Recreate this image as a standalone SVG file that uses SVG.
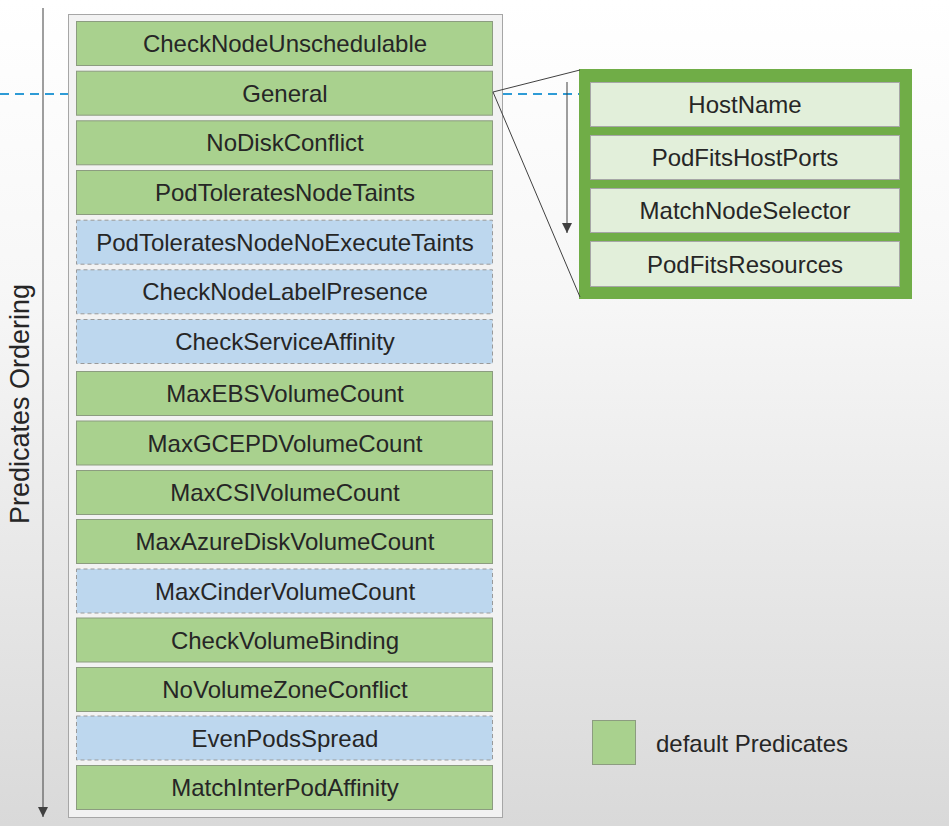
<svg xmlns="http://www.w3.org/2000/svg" width="949" height="826" viewBox="0 0 949 826">
<defs>
<linearGradient id="bg" x1="0" y1="0" x2="0" y2="1">
<stop offset="0" stop-color="#ffffff"/>
<stop offset="0.35" stop-color="#f7f7f7"/>
<stop offset="1" stop-color="#d9d9d9"/>
</linearGradient>
<marker id="ah" viewBox="0 0 10 10" refX="10" refY="5" markerWidth="10" markerHeight="10" markerUnits="userSpaceOnUse" orient="auto">
<path d="M0,0 L10,5 L0,10 z" fill="#404040"/>
</marker>
</defs>
<style>
.g{fill:#a9d18e;stroke:#8c9c80;stroke-width:1}
.b{fill:#bdd7ee;stroke:#9a9a9a;stroke-width:1;stroke-dasharray:4 3}
.lg{fill:#e2efda;stroke:#a6a6a6;stroke-width:1}
.t{font-family:"Liberation Sans","Noto Sans",sans-serif;font-size:24px;fill:#262626;text-anchor:middle;dominant-baseline:central}
.dash{stroke:#2e9bd6;stroke-width:2;stroke-dasharray:9 6;fill:none}
.ln{stroke:#404040;stroke-width:1;fill:none}
</style>
<rect width="949" height="826" fill="url(#bg)"/>
<text class="t" transform="translate(20,404) rotate(-90)" style="font-size:27px">Predicates Ordering</text>
<g id="container">
<rect x="68.5" y="14.5" width="434" height="803" fill="#f2f2f2" stroke="#a6a6a6" stroke-width="1"/>
</g>
<g id="n1"><rect class="g" x="76.5" y="21.5" width="416" height="44"/><text class="t" x="285" y="43.5">CheckNodeUnschedulable</text></g>
<g id="n2"><rect class="g" x="76.5" y="71.2" width="416" height="44"/><text class="t" x="285" y="93.2">General</text></g>
<g id="n3"><rect class="g" x="76.5" y="120.8" width="416" height="44"/><text class="t" x="285" y="142.8">NoDiskConflict</text></g>
<g id="n4"><rect class="g" x="76.5" y="170.5" width="416" height="44"/><text class="t" x="285" y="192.5">PodToleratesNodeTaints</text></g>
<g id="n5"><rect class="b" x="76.5" y="220.2" width="416" height="44"/><text class="t" x="285" y="242.2">PodToleratesNodeNoExecuteTaints</text></g>
<g id="n6"><rect class="b" x="76.5" y="269.8" width="416" height="44"/><text class="t" x="285" y="291.8">CheckNodeLabelPresence</text></g>
<g id="n7"><rect class="b" x="76.5" y="319.5" width="416" height="44"/><text class="t" x="285" y="341.5">CheckServiceAffinity</text></g>
<g id="n8"><rect class="g" x="76.5" y="371.5" width="416" height="44"/><text class="t" x="285" y="393.5">MaxEBSVolumeCount</text></g>
<g id="n9"><rect class="g" x="76.5" y="421" width="416" height="44"/><text class="t" x="285" y="443">MaxGCEPDVolumeCount</text></g>
<g id="n10"><rect class="g" x="76.5" y="470.5" width="416" height="44"/><text class="t" x="285" y="492.5">MaxCSIVolumeCount</text></g>
<g id="n11"><rect class="g" x="76.5" y="519.5" width="416" height="44"/><text class="t" x="285" y="541.5">MaxAzureDiskVolumeCount</text></g>
<g id="n12"><rect class="b" x="76.5" y="569" width="416" height="44"/><text class="t" x="285" y="591">MaxCinderVolumeCount</text></g>
<g id="n13"><rect class="g" x="76.5" y="618" width="416" height="44"/><text class="t" x="285" y="640">CheckVolumeBinding</text></g>
<g id="n14"><rect class="g" x="76.5" y="667.5" width="416" height="44"/><text class="t" x="285" y="689.5">NoVolumeZoneConflict</text></g>
<g id="n15"><rect class="b" x="76.5" y="716" width="416" height="44"/><text class="t" x="285" y="738">EvenPodsSpread</text></g>
<g id="n16"><rect class="g" x="76.5" y="765.5" width="416" height="44"/><text class="t" x="285" y="787.5">MatchInterPodAffinity</text></g>
<g id="general-detail">
<rect x="579" y="69" width="333" height="230" fill="#70ad47"/>
<g id="d1"><rect class="lg" x="590.5" y="82.5" width="309" height="44"/><text class="t" x="745" y="104.5">HostName</text></g>
<g id="d2"><rect class="lg" x="590.5" y="135.5" width="309" height="44"/><text class="t" x="745" y="157.5">PodFitsHostPorts</text></g>
<g id="d3"><rect class="lg" x="590.5" y="188.5" width="309" height="44"/><text class="t" x="745" y="210.5">MatchNodeSelector</text></g>
<g id="d4"><rect class="lg" x="590.5" y="241.5" width="309" height="45"/><text class="t" x="745" y="264">PodFitsResources</text></g>
</g>
<g id="connectors">
<line class="dash" x1="0" y1="94" x2="68" y2="94"/>
<line class="dash" x1="503" y1="94" x2="579" y2="94"/>
<line class="ln" x1="43" y1="8" x2="43" y2="817" marker-end="url(#ah)"/>
<line class="ln" x1="493" y1="92" x2="580" y2="70"/>
<line class="ln" x1="493" y1="92" x2="580" y2="297"/>
<line class="ln" x1="567" y1="82" x2="567" y2="233" marker-end="url(#ah)"/>
</g>
<g id="legend">
<rect class="g" x="592.5" y="720.5" width="43" height="44" stroke="#8c8c8c"/>
<text class="t" x="656" y="743" style="text-anchor:start">default Predicates</text>
</g>
</svg>
